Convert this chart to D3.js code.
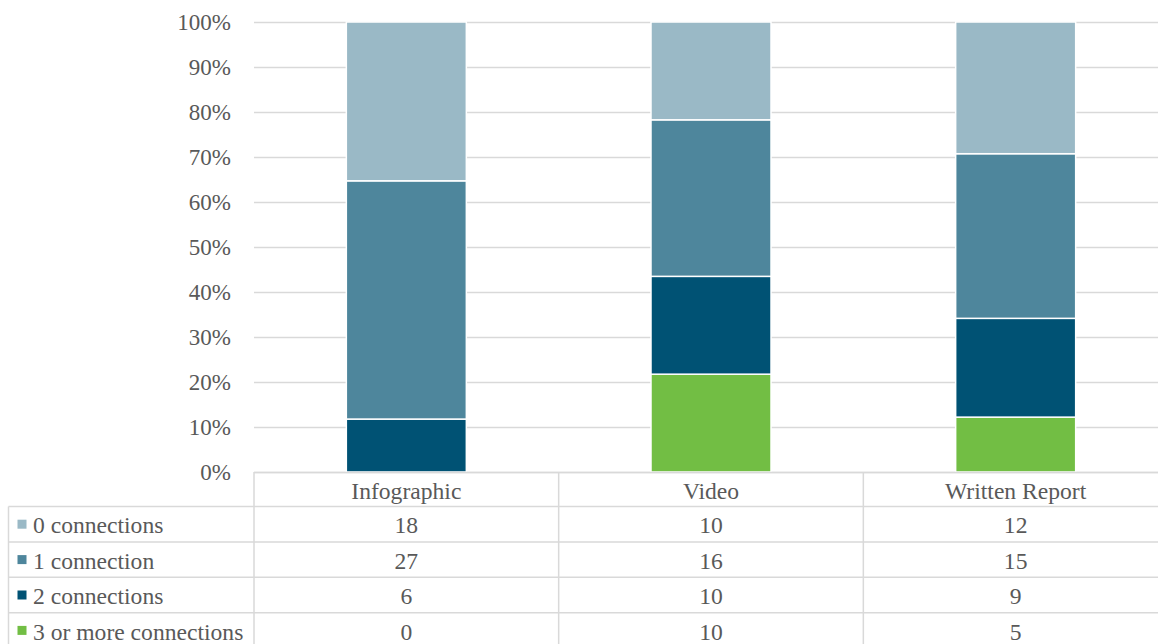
<!DOCTYPE html>
<html>
<head>
<meta charset="utf-8">
<script src="https://cdn.jsdelivr.net/npm/d3@7"></script>
<style>
  body { margin: 0; background: #fff; }
</style>
</head>
<body>
<svg id="mainsvg" width="1158" height="644"></svg>
<script>
// data
const categories = ['Infographic', 'Video', 'Written Report'];
const seriesNames = ['0 connections', '1 connection', '2 connections', '3 or more connections'];
const zeroConn = [18, 10, 12];
const oneConn = [27, 16, 15];
const twoConn = [6, 10, 9];
const threePlus = [0, 10, 5];
const yTicks = [0, 0.1, 0.2, 0.3, 0.4, 0.5, 0.6, 0.7, 0.8, 0.9, 1];
const colors = ['#9ab9c6', '#4e869c', '#005274', '#72be44'];

const svg = d3.select('#mainsvg');
const fontFam = "'Liberation Serif', 'Tinos', 'Times New Roman', 'DejaVu Serif', serif";
const axisFontSize = 23;
const tableFontSize = 23.6;
const textColor = '#595959';
const plotLeft = 254, plotRight = 1168;
const plotTop = 22, plotBottom = 472;
const rowH = 35.4;
const headerBottom = 506.5;

const values = [zeroConn, oneConn, twoConn, threePlus];
const table = categories.map((c, i) => {
    const row = { cat: c };
    seriesNames.forEach((s, j) => row[s] = values[j][i]);
    return row;
});

// stack from bottom: 3+, 2, 1, 0
const stackKeys = seriesNames.slice().reverse();
const stacked = d3.stack().keys(stackKeys).offset(d3.stackOffsetExpand)(table);

const xScale = d3.scaleBand().domain(categories).range([plotLeft, plotRight]);
const yScale = d3.scaleLinear().domain([0, 1]).range([plotBottom, plotTop]);
const colorScale = d3.scaleOrdinal().domain(seriesNames).range(colors);

// gridlines + tick labels
const yAxis = d3.axisLeft(yScale)
    .tickValues(yTicks)
    .tickFormat(d3.format('.0%'))
    .tickSize(-(plotRight - plotLeft))
    .tickPadding(23);
const yAxisGroup = svg.append('g')
    .attr('transform', `translate(${plotLeft}, 0)`)
    .call(yAxis)
    .attr('font-family', null)
    .attr('font-size', null);
yAxisGroup.select('.domain').remove();
yAxisGroup.selectAll('line').attr('stroke', '#d9d9d9').attr('stroke-width', 1.5);
yAxisGroup.selectAll('text')
    .style('font-family', fontFam)
    .style('font-size', axisFontSize + 'px')
    .attr('fill', textColor);

// bars
const barW = 120;
svg.append('g').selectAll('g')
    .data(stacked)
    .join('g')
    .attr('fill', d => colorScale(d.key))
    .selectAll('rect')
    .data(d => d)
    .join('rect')
    .attr('x', d => xScale(d.data.cat) + xScale.bandwidth() / 2 - barW / 2)
    .attr('y', d => yScale(d[1]))
    .attr('width', barW)
    .attr('height', d => Math.max(0, yScale(d[0]) - yScale(d[1])))
    .attr('stroke', '#fff')
    .attr('stroke-width', d => (d[1] - d[0]) > 0 ? 1.5 : 0);

// data table
const tg = svg.append('g');
const lineColor = '#d9d9d9';
const tableLeft = 8.5;
const tableBottom = headerBottom + rowH * seriesNames.length;
const addText = (x, y, txt, anchor) => tg.append('text')
    .attr('x', x).attr('y', y).attr('dy', '0.35em')
    .attr('text-anchor', anchor)
    .style('font-family', fontFam)
    .style('font-size', tableFontSize + 'px')
    .attr('fill', textColor)
    .text(txt);

tg.append('line').attr('x1', plotLeft).attr('x2', plotRight).attr('y1', plotBottom + 0.5).attr('y2', plotBottom + 0.5)
    .attr('stroke', lineColor).attr('stroke-width', 1.5);
d3.range(seriesNames.length + 1).forEach(i => {
    const y = headerBottom + i * rowH;
    tg.append('line').attr('x1', tableLeft).attr('x2', plotRight).attr('y1', y).attr('y2', y)
        .attr('stroke', lineColor).attr('stroke-width', 1.5);
});
tg.append('line').attr('x1', tableLeft).attr('x2', tableLeft).attr('y1', headerBottom).attr('y2', tableBottom)
    .attr('stroke', lineColor).attr('stroke-width', 1.5);
categories.forEach(c => {
    const x = xScale(c);
    tg.append('line').attr('x1', x).attr('x2', x).attr('y1', plotBottom).attr('y2', tableBottom)
        .attr('stroke', lineColor).attr('stroke-width', 1.5);
});
categories.forEach(c => addText(xScale(c) + xScale.bandwidth() / 2, (plotBottom + headerBottom) / 2 + 1, c, 'middle'));
seriesNames.forEach((s, i) => {
    const cy = headerBottom + i * rowH + rowH / 2;
    tg.append('rect').attr('x', 17.5).attr('y', cy - 4.5).attr('width', 9).attr('height', 9)
        .attr('fill', colorScale(s));
    addText(33, cy + 1, s, 'start');
    categories.forEach((c, k) => addText(xScale(c) + xScale.bandwidth() / 2, cy + 1, values[i][k], 'middle'));
});
</script>
</body>
</html>
